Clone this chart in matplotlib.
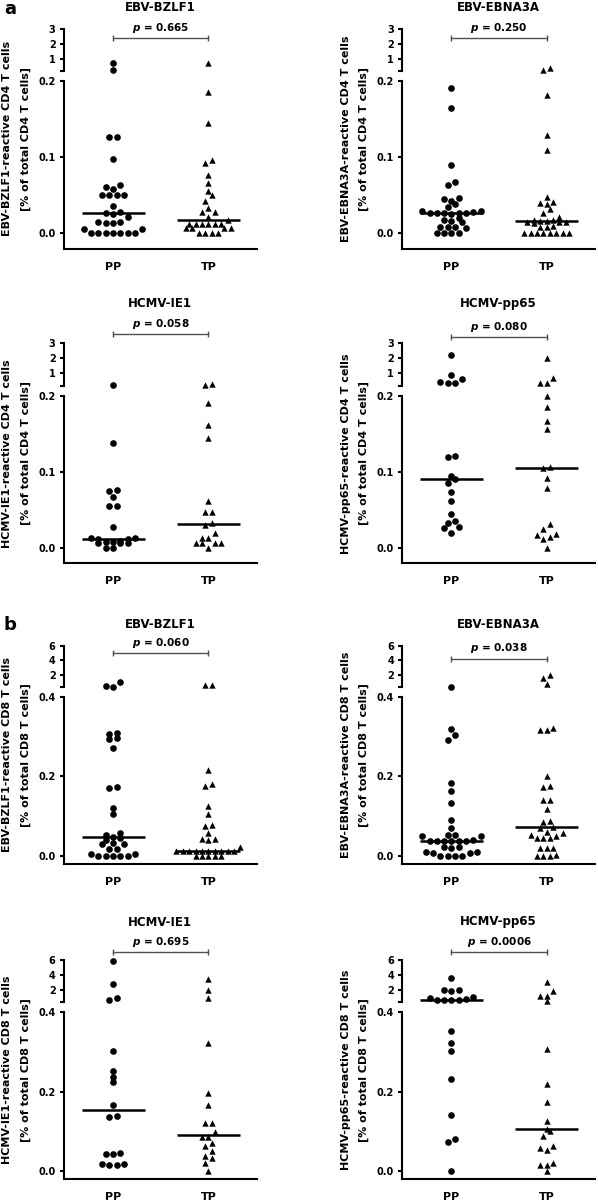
import numpy as np
import matplotlib
matplotlib.use('Agg')
import matplotlib.pyplot as plt
from matplotlib.transforms import blended_transform_factory

plt.rcParams['font.family'] = ['DejaVu Sans']
plt.rcParams['mathtext.fontset'] = 'custom'
plt.rcParams['mathtext.it'] = 'DejaVu Sans:italic:bold'
plt.rcParams['mathtext.rm'] = 'DejaVu Sans:bold'

# ---------------- data ----------------
groups = ['PP', 'TP']
titles = ['EBV-BZLF1', 'EBV-EBNA3A', 'HCMV-IE1', 'HCMV-pp65',
          'EBV-BZLF1', 'EBV-EBNA3A', 'HCMV-IE1', 'HCMV-pp65']
ylabel_top = ['EBV-BZLF1-reactive CD4 T cells', 'EBV-EBNA3A-reactive CD4 T cells',
              'HCMV-IE1-reactive CD4 T cells', 'HCMV-pp65-reactive CD4 T cells',
              'EBV-BZLF1-reactive CD8 T cells', 'EBV-EBNA3A-reactive CD8 T cells',
              'HCMV-IE1-reactive CD8 T cells', 'HCMV-pp65-reactive CD8 T cells']
ylabel_bottom = ['[% of total CD4 T cells]'] * 4 + ['[% of total CD8 T cells]'] * 4
p_values = ['0.665', '0.250', '0.058', '0.080', '0.060', '0.038', '0.695', '0.0006']
panel_letters = ['a', 'b']

# CD4 axis: lower 0-0.2, upper 0.2-3 ; CD8 axis: lower 0-0.4, upper 0.4-6
lower_ticks_cd4 = [0.0, 0.1, 0.2]
lower_ticks_cd8 = [0.0, 0.2, 0.4]
lower_ticklabels_cd4 = ['0.0', '0.1', '0.2']
lower_ticklabels_cd8 = ['0.0', '0.2', '0.4']
upper_ticks_cd4 = [0.2, 1, 2, 3]
upper_ticks_cd8 = [0.4, 2, 4, 6]
upper_ticklabels_cd4 = ['', '1', '2', '3']
upper_ticklabels_cd8 = ['', '2', '4', '6']

a1_pp = [0.73, 0.25, 0.127, 0.126, 0.097, 0.063, 0.061, 0.058, 0.050, 0.050, 0.050, 0.050,
         0.036, 0.028, 0.027, 0.025, 0.021, 0.015, 0.015, 0.014, 0.014, 0.006, 0.006,
         0, 0, 0, 0, 0, 0, 0]
a1_tp = [0.73, 0.185, 0.145, 0.096, 0.092, 0.076, 0.066, 0.055, 0.050, 0.043, 0.033, 0.028,
         0.028, 0.022, 0.017, 0.012, 0.012, 0.012, 0.012, 0.012, 0.012, 0.007, 0.007, 0.007,
         0.007, 0, 0, 0, 0]
a2_pp = [0.191, 0.164, 0.090, 0.067, 0.063, 0.046, 0.045, 0.043, 0.039, 0.035, 0.029, 0.028,
         0.027, 0.026, 0.026, 0.025, 0.026, 0.027, 0.029, 0.020, 0.017, 0.015, 0.016, 0.008,
         0.008, 0.007, 0.008, 0, 0, 0, 0]
a2_tp = [0.35, 0.25, 0.182, 0.129, 0.109, 0.048, 0.041, 0.040, 0.038, 0.032, 0.026, 0.022,
         0.017, 0.016, 0.015, 0.015, 0.014, 0.015, 0.016, 0.018, 0.010, 0.008, 0.008,
         0, 0, 0, 0, 0, 0, 0, 0]
a3_pp = [0.25, 0.138, 0.076, 0.075, 0.067, 0.055, 0.055, 0.027, 0.013, 0.013, 0.012, 0.012,
         0.008, 0.006, 0.006, 0.006, 0.008, 0.009, 0, 0]
a3_tp = [0.30, 0.25, 0.191, 0.161, 0.144, 0.062, 0.047, 0.047, 0.033, 0.030, 0.020, 0.013,
         0.013, 0.0065, 0.0065, 0.0065, 0.0065, 0]
a4_pp = [2.2, 0.9, 0.65, 0.45, 0.35, 0.35, 0.121, 0.120, 0.094, 0.090, 0.085, 0.073, 0.062,
         0.045, 0.036, 0.033, 0.027, 0.026, 0.020]
a4_tp = [2.05, 0.68, 0.35, 0.35, 0.199, 0.185, 0.167, 0.156, 0.106, 0.105, 0.092, 0.079,
         0.031, 0.025, 0.018, 0.015, 0.017, 0.012, 0]
b1_pp = [1.1, 0.6, 0.5, 0.308, 0.307, 0.296, 0.293, 0.271, 0.173, 0.172, 0.121, 0.106,
         0.058, 0.054, 0.049, 0.045, 0.040, 0.032, 0.030, 0.030, 0.017, 0.017, 0.005, 0.005,
         0, 0, 0, 0, 0]
b1_tp = [0.7, 0.7, 0.217, 0.181, 0.175, 0.127, 0.106, 0.079, 0.075, 0.058, 0.043, 0.042,
         0.040, 0.023, 0.014, 0.014, 0.014, 0.014, 0.014, 0.014, 0.014, 0.014, 0.014, 0.014,
         0.001, 0, 0, 0, 0]
b2_pp = [0.45, 0.319, 0.304, 0.292, 0.183, 0.164, 0.133, 0.090, 0.071, 0.054, 0.052, 0.050,
         0.050, 0.040, 0.039, 0.038, 0.038, 0.037, 0.038, 0.039, 0.023, 0.021, 0.022, 0.010,
         0.008, 0.008, 0.010, 0, 0, 0, 0]
b2_tp = [2.0, 1.7, 0.8, 0.321, 0.317, 0.317, 0.202, 0.177, 0.173, 0.140, 0.140, 0.118,
         0.0875, 0.085, 0.073, 0.072, 0.060, 0.054, 0.046, 0.046, 0.046, 0.050, 0.058, 0.021,
         0.021, 0.021, 0.004, 0, 0, 0]
b3_pp = [5.8, 2.7, 0.85, 0.55, 0.302, 0.2525, 0.2375, 0.223, 0.167, 0.139, 0.136, 0.046,
         0.044, 0.044, 0.019, 0.019, 0.015, 0.015]
b3_tp = [3.5, 2.0, 0.85, 0.3225, 0.196, 0.167, 0.121, 0.121, 0.0975, 0.086, 0.086, 0.071,
         0.064, 0.050, 0.0375, 0.033, 0.021, 0]
b4_pp = [3.6, 2.0, 1.85, 1.9, 1.0, 0.85, 0.7, 0.6, 0.55, 0.55, 0.55, 0.352, 0.3225, 0.302,
         0.231, 0.14, 0.081, 0.0725, 0]
b4_tp = [3.0, 1.8, 1.2, 1.2, 0.45, 0.307, 0.219, 0.173, 0.125, 0.106, 0.100, 0.0875, 0.0625,
         0.058, 0.0525, 0.021, 0.015, 0.015, 0]

pp_data = [a1_pp, a2_pp, a3_pp, a4_pp, b1_pp, b2_pp, b3_pp, b4_pp]
tp_data = [a1_tp, a2_tp, a3_tp, a4_tp, b1_tp, b2_tp, b3_tp, b4_tp]

# ---------------- layout (pixels) ----------------
W, H = 598, 1203
fig = plt.figure(figsize=(W / 100, H / 100), dpi=100)

cols = [(63.5, 257.0), (402.0, 595.0)]
rows = [(29.0, 70.5, 81.0, 248.5), (343.3, 385.5, 395.7, 563.3),
        (645.5, 687.3, 696.7, 864.2), (960.0, 1001.5, 1011.7, 1179.3)]
title_y = [7.5, 303.5, 624.5, 922.0]
bracket_off = [9.3, 9.0, -9.3, -6.6, 7.3, 13.0, -7.7, -7.7]
letter_y = [13.5, 630.0]
XLIM = (-0.52, 1.51)
LW = 1.5
BIN_PX = 5.5
marker_styles = [('o', 23, 7.3), ('^', 21, 6.4)]  # marker, size, row spacing px


def add_ax(x0, x1, ytop, ybot):
    return fig.add_axes([x0 / W, 1 - ybot / H, (x1 - x0) / W, (ybot - ytop) / H])


def row_layout(ax, xc, vals, spacing, bin_px):
    """Prism-like scatter-dot layout: close values share a centred row."""
    vals = np.asarray(vals, dtype=float)
    if len(vals) == 0:
        return np.array([])
    ypx = ax.transData.transform(np.column_stack([np.full(len(vals), xc), vals]))[:, 1]
    xppu = ax.transData.transform([(1, 0)])[0][0] - ax.transData.transform([(0, 0)])[0][0]
    order = list(np.argsort(ypx, kind='stable'))
    xs = np.zeros(len(vals))
    k = 0
    while k < len(order):
        start = ypx[order[k]]
        members = [order[k]]
        k += 1
        while k < len(order) and ypx[order[k]] - start < bin_px:
            members.append(order[k])
            k += 1
        n = len(members)
        slots = [(j - (n - 1) / 2) * spacing for j in range(n)]
        slots = sorted(slots, key=lambda s: (round(abs(s), 6), s))
        for m, s in zip(members, slots):
            xs[m] = s
    return xc + xs / xppu


for i in range(8):
    r = i // 2
    c = i % 2
    cd8 = r >= 2
    x0, x1 = cols[c]
    ut, ub, lt, lb = rows[r]
    axu = add_ax(x0, x1, ut, ub)
    axl = add_ax(x0, x1, lt, lb)

    lower_top = 0.4 if cd8 else 0.2
    upper_top = 6.0 if cd8 else 3.0
    axl.set_xlim(*XLIM)
    axu.set_xlim(*XLIM)
    axl.set_ylim(-0.02, lower_top)
    axu.set_ylim(lower_top, upper_top)

    axl.set_yticks(lower_ticks_cd8 if cd8 else lower_ticks_cd4)
    axl.set_yticklabels(lower_ticklabels_cd8 if cd8 else lower_ticklabels_cd4)
    axu.set_yticks(upper_ticks_cd8 if cd8 else upper_ticks_cd4)
    axu.set_yticklabels(upper_ticklabels_cd8 if cd8 else upper_ticklabels_cd4)
    axl.set_xticks([0, 1])
    axl.set_xticklabels(groups)
    axu.set_xticks([])

    for ax in (axl, axu):
        ax.patch.set_alpha(0)
        ax.spines['top'].set_visible(False)
        ax.spines['right'].set_visible(False)
        ax.spines['left'].set_linewidth(LW)
        ax.spines['bottom'].set_linewidth(LW)
        ax.tick_params(axis='y', direction='out', length=3.2, width=LW, pad=2.5,
                       labelsize=7)
        for t in ax.get_yticklabels():
            t.set_fontweight('bold')
    axu.spines['bottom'].set_visible(False)
    axl.tick_params(axis='x', length=0, pad=9.5, labelsize=8)
    for t in axl.get_xticklabels():
        t.set_fontweight('bold')

    for gi, vals in enumerate([pp_data[i], tp_data[i]]):
        mk, sz, sp = marker_styles[gi]
        vals = np.asarray(vals, dtype=float)
        low = vals[vals <= lower_top]
        up = vals[vals > lower_top]
        xl = row_layout(axl, gi, low, sp, BIN_PX)
        xu = row_layout(axu, gi, up, sp, BIN_PX)
        axl.scatter(xl, low, s=sz, marker=mk, color='black', linewidths=0, clip_on=False,
                    zorder=3)
        axu.scatter(xu, up, s=sz, marker=mk, color='black', linewidths=0, clip_on=False,
                    zorder=3)
        med = np.median(vals)
        for ax in (axl, axu):
            ax.hlines(med, gi - 0.33, gi + 0.33, color='black', lw=1.8, zorder=4)

    # p-value bracket
    hu = ub - ut
    yf = 1 - bracket_off[i] / hu
    trans = blended_transform_factory(axu.transData, axu.transAxes)
    axu.plot([0, 1], [yf, yf], transform=trans, color='#505050', lw=1.0, clip_on=False,
             marker='|', markersize=4.5, mew=1.0)
    axu.annotate(f'$p$ = {p_values[i]}', xy=(0.5, yf), xycoords=trans,
                 xytext=(0, 2.2), textcoords='offset points', ha='center', va='bottom',
                 fontsize=7.5, fontweight='bold')

    # title
    fig.text((x0 + x1) / 2 / W, 1 - title_y[r] / H, titles[i], ha='center', va='center',
             fontsize=8.5, fontweight='bold')
    # y labels
    yc = (ut + lb) / 2
    fig.text((x0 - 56) / W, 1 - yc / H, ylabel_top[i], rotation=90, ha='center',
             va='center', fontsize=8, fontweight='bold')
    fig.text((x0 - 38) / W, 1 - yc / H, ylabel_bottom[i], rotation=90, ha='center',
             va='center', fontsize=8, fontweight='bold')

for k, letter in enumerate(panel_letters):
    fig.text(10 / W, 1 - letter_y[k] / H, letter, ha='center', va='baseline',
             fontsize=13, fontweight='bold')

fig.savefig('out.png', dpi=100)
